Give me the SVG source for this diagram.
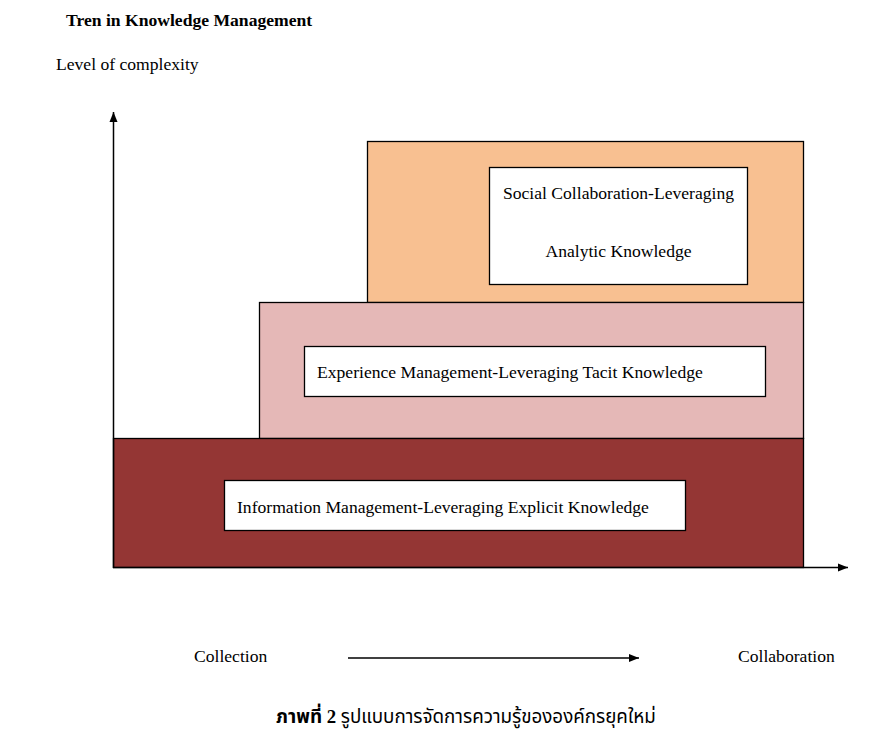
<svg xmlns="http://www.w3.org/2000/svg" width="878" height="735" viewBox="0 0 878 735">
<style>
text{font-family:"Liberation Serif","Noto Sans Thai","DejaVu Sans",serif;font-size:17.6px;fill:#000}
.b{font-weight:bold}
.cap{font-size:18.8px}
.lay{stroke:#000;stroke-width:1.3}
.box{fill:#fff;stroke:#000;stroke-width:1.3}
.ax{stroke:#000;stroke-width:1.5;fill:none}
</style>
<defs>
<marker id="ah" viewBox="0 0 10 10" refX="10" refY="5" markerWidth="10" markerHeight="10" markerUnits="userSpaceOnUse" orient="auto">
<path d="M0,1 L10,5 L0,9 z" fill="#000"/>
</marker>
</defs>
<rect width="878" height="735" fill="#fff"/>
<text class="b" x="66" y="26">Tren in Knowledge Management</text>
<text x="56" y="70">Level of complexity</text>
<g id="layer-orange">
<rect class="lay" x="367.5" y="141.5" width="436" height="161" fill="#F8C091"/>
</g>
<g id="layer-pink">
<rect class="lay" x="259.5" y="302.5" width="544" height="136" fill="#E5B8B7"/>
</g>
<g id="layer-dark">
<rect class="lay" x="113.5" y="438.5" width="690" height="129" fill="#943634"/>
</g>
<g id="node-social">
<rect class="box" x="489.5" y="167.5" width="258" height="117"/>
<text x="618.5" y="199" text-anchor="middle">Social Collaboration-Leveraging</text>
<text x="618.5" y="257" text-anchor="middle">Analytic Knowledge</text>
</g>
<g id="node-experience">
<rect class="box" x="304.5" y="346.5" width="461" height="50"/>
<text x="317" y="378">Experience Management-Leveraging Tacit Knowledge</text>
</g>
<g id="node-information">
<rect class="box" x="224.5" y="480.5" width="461" height="50"/>
<text x="237" y="513">Information Management-Leveraging Explicit Knowledge</text>
</g>
<g id="connectors">
<line class="ax" x1="113.5" y1="568" x2="113.5" y2="112" marker-end="url(#ah)"/>
<line class="ax" x1="113" y1="567.5" x2="848" y2="567.5" marker-end="url(#ah)"/>
<line class="ax" x1="348" y1="658" x2="639" y2="658" marker-end="url(#ah)"/>
</g>
<text x="194" y="662">Collection</text>
<text x="738" y="662">Collaboration</text>
<text class="cap" x="466" y="723" text-anchor="middle"><tspan class="b">ภาพที่ 2</tspan> รูปแบบการจัดการความรู้ขององค์กรยุคใหม่</text>
</svg>
